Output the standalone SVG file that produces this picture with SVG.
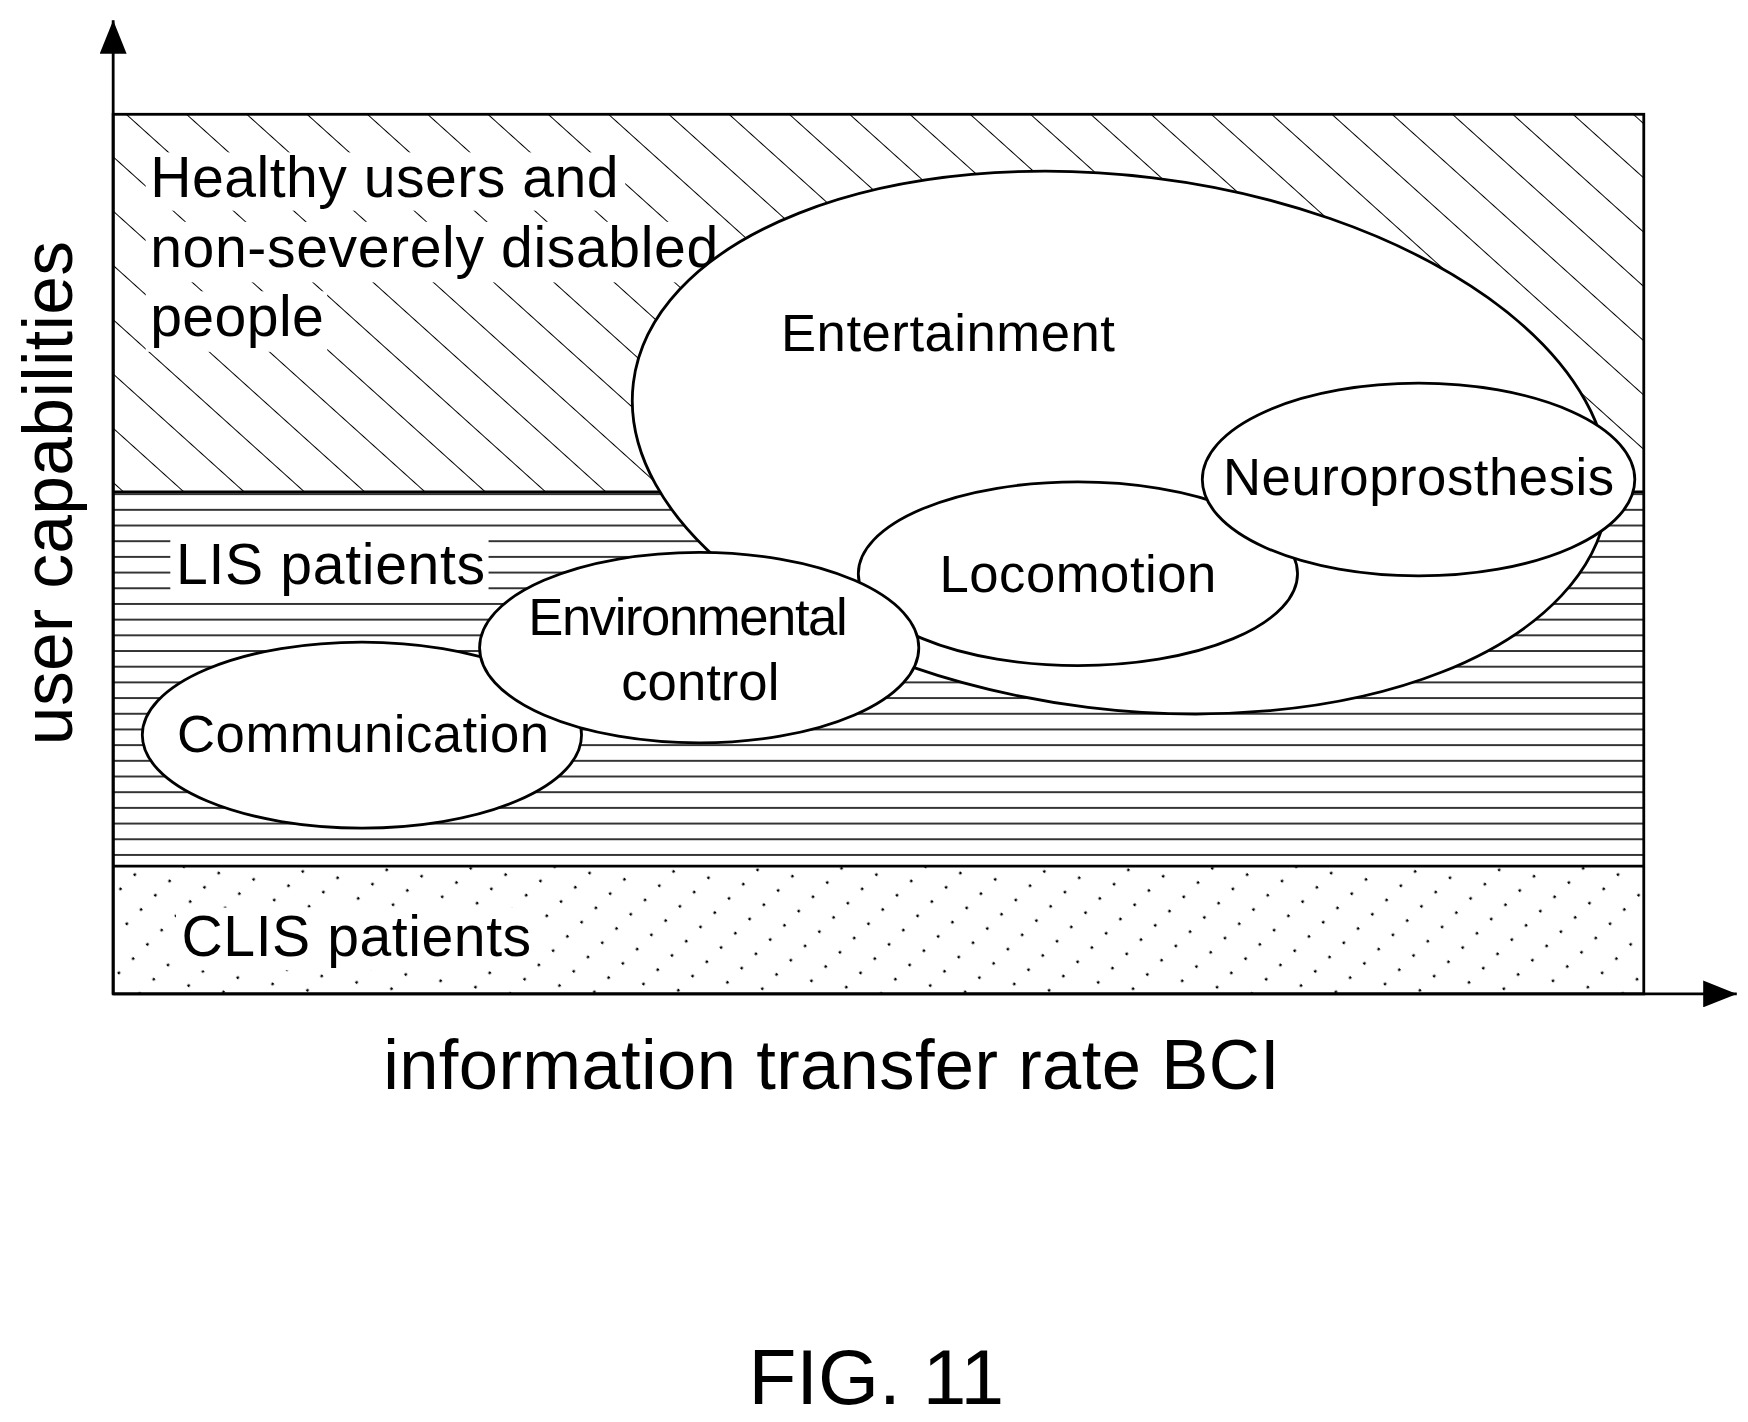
<svg xmlns="http://www.w3.org/2000/svg" width="1748" height="1422" viewBox="0 0 1748 1422">
<style>
text{font-family:"Liberation Sans",Arial,sans-serif;fill:#000}
.n{fill:#fff;stroke:#000;stroke-width:2.5}
.t{font-size:51px}
.u{font-size:47px}
.c{text-anchor:middle}
.bg{fill:#fff}
</style>
<defs>
<pattern id="diag" patternUnits="userSpaceOnUse" width="36" height="36" patternTransform="rotate(42)">
<line x1="0" y1="0" x2="36" y2="0" stroke="#000" stroke-width="1.6"/>
</pattern>
<pattern id="horiz" patternUnits="userSpaceOnUse" width="20" height="14">
<line x1="0" y1="7" x2="20" y2="7" stroke="#000" stroke-width="1.4"/>
</pattern>
<pattern id="dots" patternUnits="userSpaceOnUse" width="36" height="26" patternTransform="rotate(-45)">
<line x1="0" y1="13" x2="36" y2="13" stroke="#000" stroke-width="2.2" stroke-dasharray="2.2 15.8"/>
</pattern>
<marker id="ah" viewBox="0 0 30 24" refX="30" refY="12" markerWidth="30" markerHeight="24" markerUnits="userSpaceOnUse" orient="auto">
<path d="M0,0 L30,12 L0,24 z" fill="#000"/>
</marker>
</defs>
<g transform="scale(1.1205)">
<g id="regions">
<rect x="101" y="102" width="1366" height="337" fill="url(#diag)"/>
<rect x="101" y="439" width="1366" height="334" fill="url(#horiz)"/>
<rect x="101" y="773" width="1366" height="114" fill="url(#dots)"/>
<rect x="101" y="102" width="1366" height="785" fill="none" stroke="#000" stroke-width="2.5"/>
<line x1="101" y1="439" x2="1467" y2="439" stroke="#000" stroke-width="2.5"/>
<line x1="101" y1="773" x2="1467" y2="773" stroke="#000" stroke-width="2.5"/>
<rect class="bg" x="130" y="136" width="428" height="52"/>
<rect class="bg" x="130" y="198" width="515" height="54"/>
<rect class="bg" x="130" y="260" width="162" height="54"/>
<rect class="bg" x="152" y="480" width="284" height="54"/>
<rect class="bg" x="157" y="810" width="322" height="56"/>
<text class="t" x="134" y="176" textLength="418">Healthy users and</text>
<text class="t" x="134" y="238" textLength="507">non-severely disabled</text>
<text class="t" x="134" y="300" textLength="155">people</text>
<text class="t" x="157" y="521" textLength="276">LIS patients</text>
<text class="t" x="162" y="853" textLength="312">CLIS patients</text>
</g>
<g id="connectors">
<line x1="101" y1="887" x2="101" y2="18" stroke="#000" stroke-width="2.5" marker-end="url(#ah)"/>
<line x1="101" y1="887" x2="1550" y2="887" stroke="#000" stroke-width="2.5" marker-end="url(#ah)"/>
</g>
<g id="entertainment"><ellipse class="n" cx="1000" cy="395" rx="438" ry="238" transform="rotate(7 1000 395)"/><text class="u c" x="846" y="313" textLength="298">Entertainment</text></g>
<g id="locomotion"><ellipse class="n" cx="962" cy="512" rx="196" ry="82"/><text class="u c" x="962" y="528" textLength="247">Locomotion</text></g>
<g id="neuroprosthesis"><ellipse class="n" cx="1266" cy="428" rx="193" ry="86"/><text class="u c" x="1266" y="442" textLength="349">Neuroprosthesis</text></g>
<g id="communication"><ellipse class="n" cx="323" cy="656" rx="196" ry="83"/><text class="u c" x="324" y="671" textLength="332">Communication</text></g>
<g id="environmental"><ellipse class="n" cx="624" cy="578" rx="196" ry="85"/><text class="u c" x="614" y="567" textLength="285">Environmental</text><text class="u c" x="625" y="625">control</text></g>
<text x="742" y="972" style="font-size:63px" class="c" textLength="800">information transfer rate BCI</text>
<text transform="translate(64 440) rotate(-90)" style="font-size:62px" class="c" textLength="450">user capabilities</text>
<text x="782" y="1253" style="font-size:70px" class="c">FIG. 11</text>
</g>
</svg>
